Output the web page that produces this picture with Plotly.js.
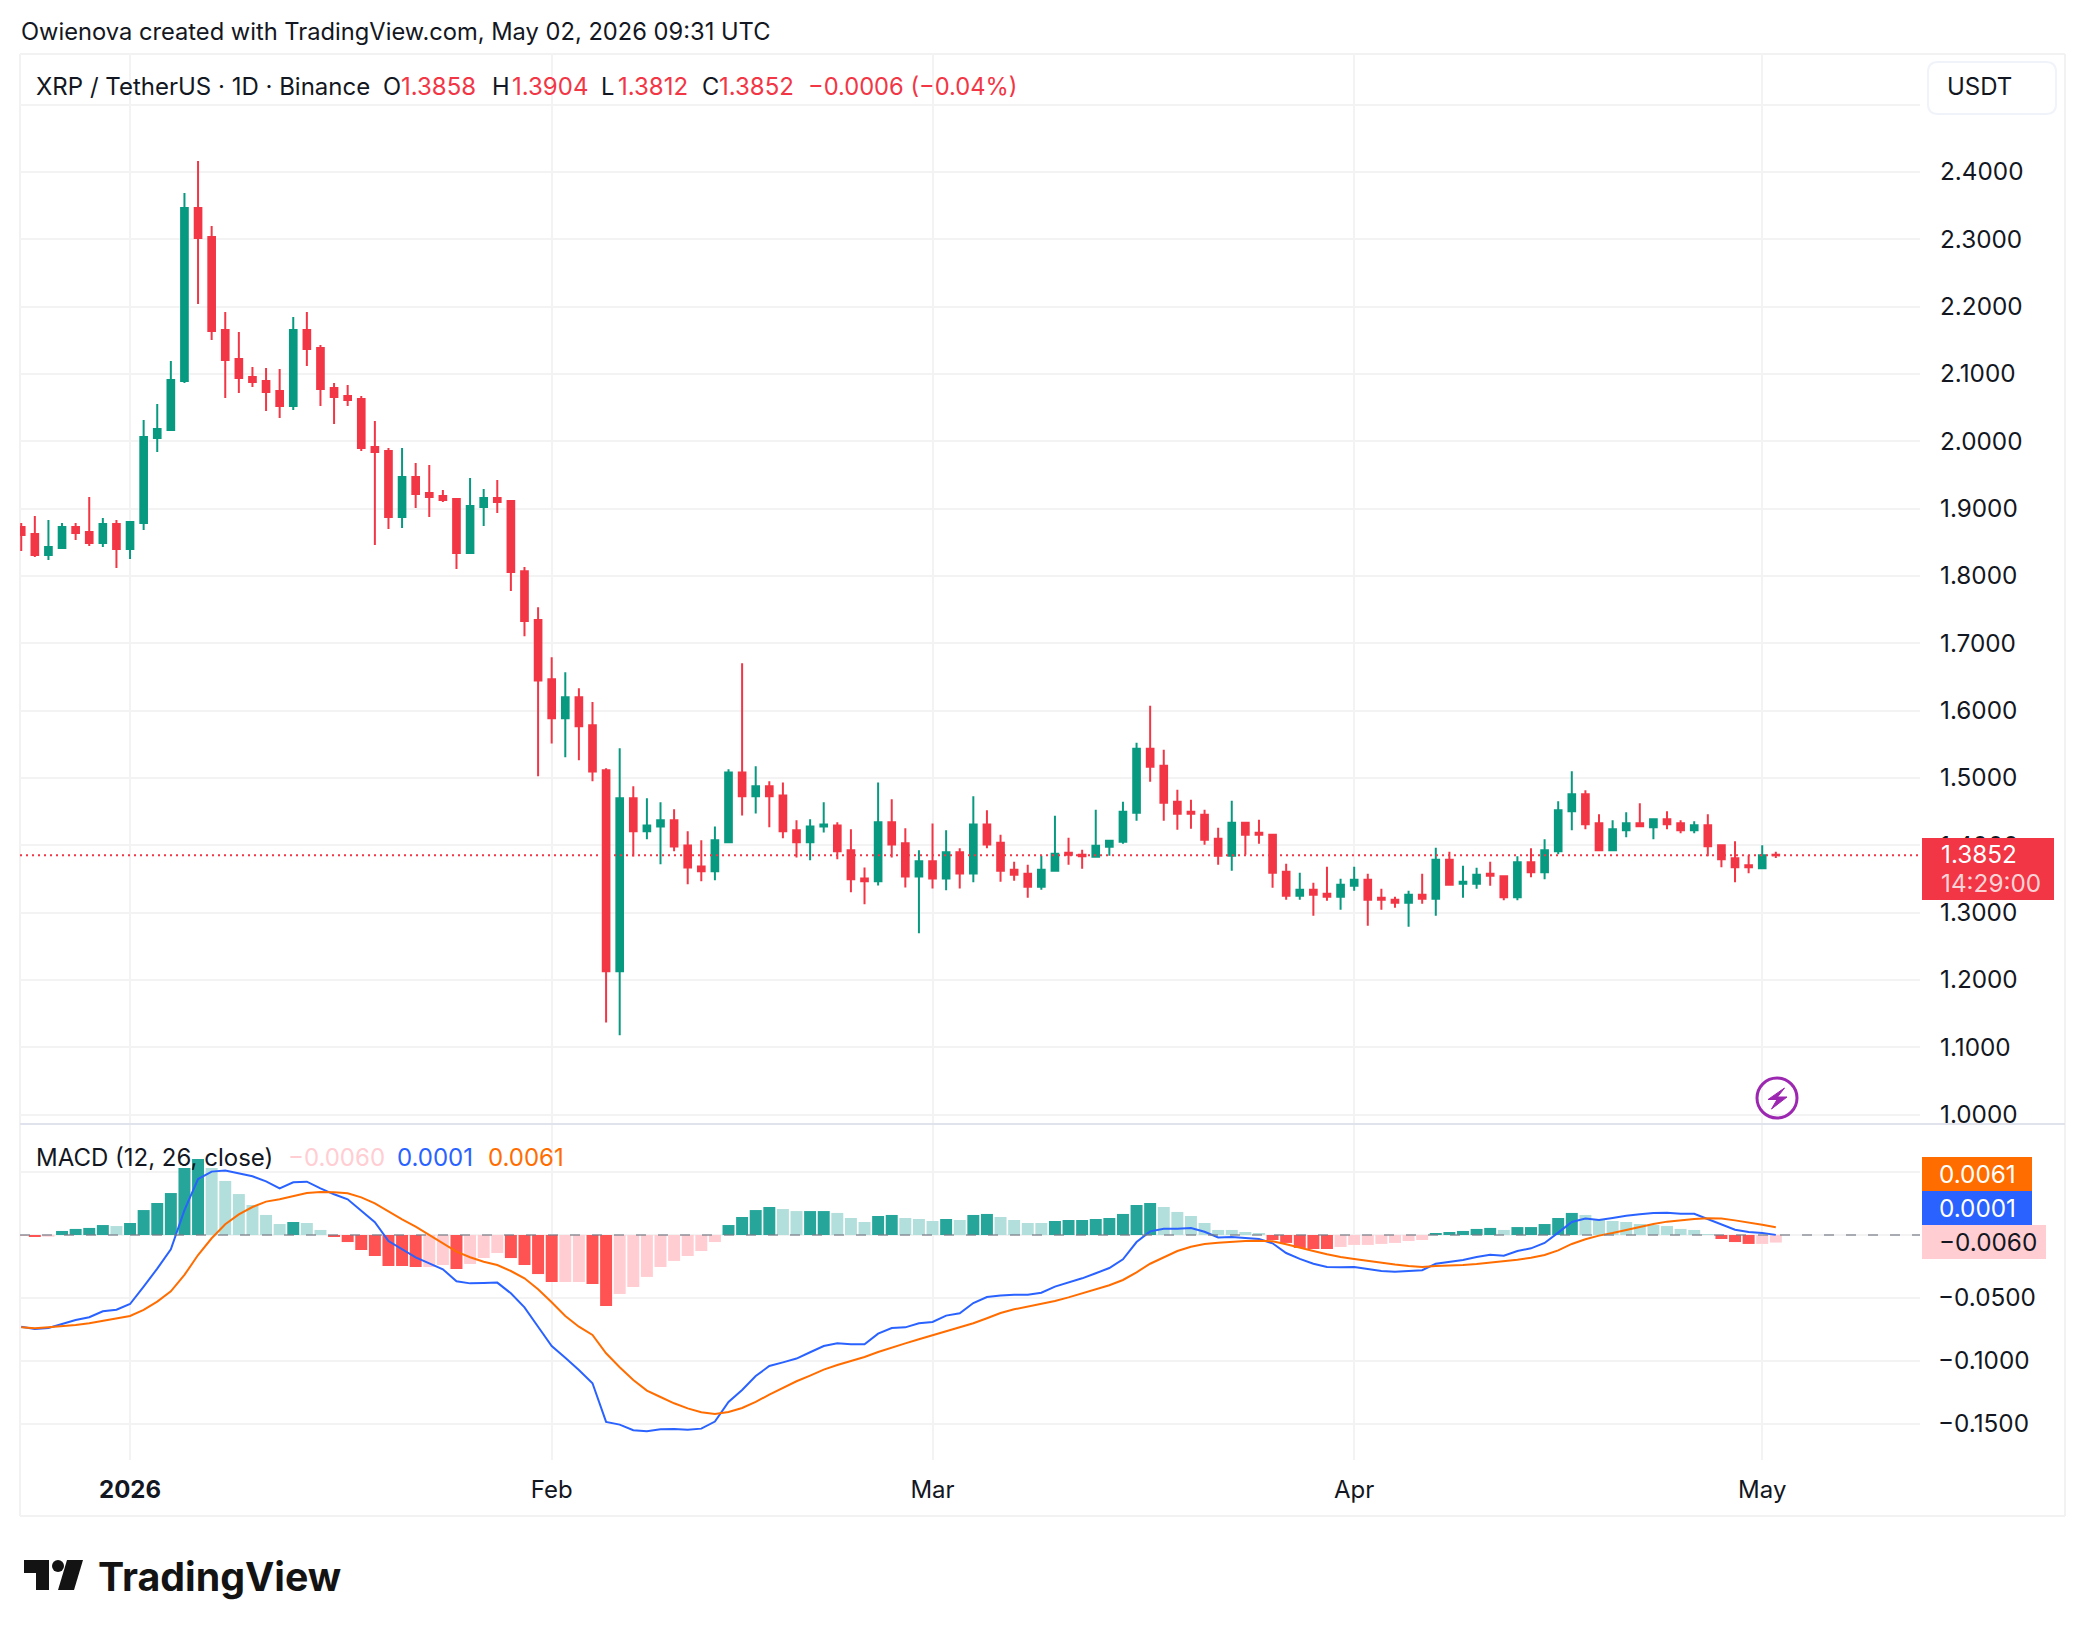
<!DOCTYPE html>
<html><head><meta charset="utf-8">
<script src="https://cdn.plot.ly/plotly-3.0.1.min.js"></script>
<style>html,body{margin:0;padding:0;background:#fff}#c{width:2084px;height:1636px}</style>
</head><body><div id="c"></div>
<script>
const firstDay = "2025-12-24";
const opens = [1.8728,1.8624,1.8312,1.8416,1.8728,1.8654,1.8490,1.8772,1.8401,1.8787,2.0050,2.0168,2.0896,2.3465,2.3035,2.1654,2.1223,2.0956,2.0896,2.0748,2.0525,2.1654,2.1386,2.0792,2.0673,2.0629,1.9916,1.9856,1.8876,1.9470,1.9233,1.9188,1.9144,1.8342,1.9025,1.9158,1.9114,1.8072,1.7345,1.6465,1.5886,1.6199,1.5784,1.5114,1.2130,1.4699,1.4208,1.4279,1.4372,1.3998,1.3686,1.3614,1.4044,1.5083,1.4730,1.4878,1.4740,1.4223,1.4044,1.4279,1.4295,1.3926,1.3507,1.3466,1.4341,1.4029,1.3537,1.3763,1.3507,1.3896,1.3583,1.4310,1.4039,1.3638,1.3579,1.3386,1.3623,1.3891,1.3861,1.3831,1.3980,1.4054,1.4485,1.5435,1.5183,1.4648,1.4500,1.4455,1.4099,1.3846,1.4336,1.4188,1.4158,1.3609,1.3252,1.3341,1.3282,1.3237,1.3401,1.3490,1.3222,1.3193,1.3148,1.3267,1.3208,1.3787,1.3430,1.3430,1.3579,1.3540,1.3228,1.3748,1.3599,1.3911,1.4505,1.4757,1.4327,1.3926,1.4223,1.4327,1.4267,1.4386,1.4327,1.4223,1.4297,1.4000,1.3807,1.3703,1.3658,1.3858];
const highs = [1.8787,1.8891,1.8832,1.8787,1.8787,1.9173,1.8861,1.8832,1.8802,2.0317,2.0554,2.1193,2.3688,2.4163,2.3198,2.1921,2.1624,2.1104,2.1089,2.1074,2.1847,2.1921,2.1431,2.0866,2.0837,2.0673,2.0302,1.9901,1.9901,1.9678,1.9649,1.9277,1.9158,1.9456,1.9292,1.9426,1.9129,1.8133,1.7534,1.6792,1.6572,1.6332,1.6127,1.5144,1.5441,1.4878,1.4699,1.4638,1.4535,1.4208,1.4075,1.4279,1.5129,1.6705,1.5175,1.4950,1.4934,1.4372,1.4387,1.4638,1.4341,1.4238,1.3670,1.4934,1.4684,1.4254,1.3926,1.4325,1.4223,1.3957,1.4730,1.4520,1.4158,1.3757,1.3713,1.3846,1.4440,1.4113,1.3935,1.4529,1.4084,1.4648,1.5524,1.6074,1.5420,1.4826,1.4678,1.4529,1.4262,1.4663,1.4351,1.4381,1.4173,1.3727,1.3594,1.3445,1.3683,1.3505,1.3683,1.3579,1.3356,1.3237,1.3326,1.3579,1.3965,1.3906,1.3698,1.3668,1.3757,1.3554,1.3837,1.3955,1.4089,1.4654,1.5099,1.4817,1.4460,1.4371,1.4490,1.4624,1.4401,1.4505,1.4371,1.4357,1.4460,1.4000,1.4059,1.3852,1.4000,1.3904];
const lows = [1.8372,1.8282,1.8238,1.8416,1.8535,1.8446,1.8431,1.8119,1.8253,1.8683,1.9842,2.0153,2.0866,2.2040,2.1505,2.0644,2.0718,2.0807,2.0451,2.0347,2.0465,2.1119,2.0525,2.0257,2.0525,1.9856,1.8460,1.8698,1.8713,1.9010,1.8876,1.9099,1.8104,1.8327,1.8743,1.8936,1.7777,1.7104,1.5027,1.5513,1.5308,1.5262,1.4950,1.1368,1.1178,1.3834,1.4090,1.3717,1.3911,1.3420,1.3466,1.3481,1.4044,1.4443,1.4474,1.4269,1.4105,1.3819,1.3778,1.4192,1.3793,1.3302,1.3123,1.3404,1.3819,1.3374,1.2693,1.3358,1.3333,1.3358,1.3450,1.3957,1.3460,1.3475,1.3222,1.3341,1.3609,1.3713,1.3653,1.3831,1.3846,1.4024,1.4366,1.4945,1.4366,1.4232,1.4247,1.4010,1.3713,1.3623,1.3861,1.4024,1.3371,1.3193,1.3193,1.2955,1.3178,1.3044,1.3326,1.2807,1.3044,1.3074,1.2792,1.3133,1.2955,1.3401,1.3222,1.3356,1.3401,1.3183,1.3183,1.3525,1.3495,1.3866,1.4223,1.4238,1.3911,1.3926,1.4119,1.4267,1.4089,1.4238,1.4178,1.4178,1.3837,1.3673,1.3450,1.3584,1.3644,1.3812];
const closes = [1.8609,1.8312,1.8431,1.8728,1.8639,1.8490,1.8772,1.8401,1.8802,2.0064,2.0183,2.0911,2.3465,2.3020,2.1639,2.1208,2.0941,2.0881,2.0733,2.0525,2.1654,2.1371,2.0777,2.0658,2.0614,1.9901,1.9842,1.8876,1.9470,1.9218,1.9173,1.9129,1.8342,1.9040,1.9158,1.9099,1.8059,1.7330,1.6449,1.5886,1.6199,1.5769,1.5098,1.2130,1.4699,1.4208,1.4295,1.4372,1.3983,1.3670,1.3614,1.4075,1.5083,1.4730,1.4878,1.4730,1.4208,1.4044,1.4279,1.4310,1.3911,1.3497,1.3466,1.4341,1.4013,1.3537,1.3763,1.3507,1.3896,1.3583,1.4310,1.4013,1.3623,1.3564,1.3386,1.3638,1.3876,1.3861,1.3836,1.3995,1.4069,1.4500,1.5435,1.5168,1.4633,1.4470,1.4470,1.4084,1.3846,1.4336,1.4158,1.4158,1.3594,1.3252,1.3341,1.3267,1.3237,1.3415,1.3490,1.3193,1.3193,1.3148,1.3267,1.3208,1.3787,1.3415,1.3460,1.3564,1.3549,1.3228,1.3748,1.3599,1.3926,1.4520,1.4757,1.4312,1.3926,1.4238,1.4327,1.4282,1.4386,1.4312,1.4223,1.4297,1.3985,1.3792,1.3673,1.3673,1.3852,1.3852];
const histValues = [-0.0008,-0.0016,-0.0013,0.0032,0.0048,0.0056,0.0079,0.0071,0.0095,0.0198,0.0254,0.0333,0.0532,0.0603,0.0532,0.0429,0.0325,0.0238,0.0159,0.0087,0.0103,0.0095,0.0040,-0.0016,-0.0056,-0.0119,-0.0167,-0.0246,-0.0246,-0.0254,-0.0254,-0.0238,-0.0270,-0.0230,-0.0183,-0.0143,-0.0183,-0.0238,-0.0310,-0.0373,-0.0373,-0.0373,-0.0389,-0.0563,-0.0468,-0.0413,-0.0333,-0.0254,-0.0206,-0.0167,-0.0127,-0.0056,0.0079,0.0143,0.0198,0.0222,0.0206,0.0190,0.0190,0.0190,0.0175,0.0135,0.0103,0.0151,0.0159,0.0135,0.0127,0.0111,0.0127,0.0119,0.0159,0.0167,0.0143,0.0119,0.0095,0.0095,0.0111,0.0119,0.0119,0.0127,0.0135,0.0167,0.0238,0.0254,0.0222,0.0183,0.0151,0.0095,0.0040,0.0040,0.0024,0.0016,-0.0040,-0.0063,-0.0103,-0.0111,-0.0111,-0.0095,-0.0079,-0.0079,-0.0071,-0.0063,-0.0048,-0.0040,0.0016,0.0024,0.0032,0.0048,0.0056,0.0040,0.0063,0.0063,0.0087,0.0135,0.0175,0.0159,0.0119,0.0111,0.0103,0.0087,0.0079,0.0071,0.0048,0.0040,0.0008,-0.0032,-0.0056,-0.0071,-0.0071,-0.0060];
const histState = ["r","R","r","G","G","G","G","g","G","G","G","G","G","G","g","g","g","g","g","g","G","g","g","R","R","R","R","R","R","R","r","r","R","r","r","r","R","R","R","R","r","r","R","R","r","r","r","r","r","r","r","r","G","G","G","G","g","g","G","G","g","g","g","G","G","g","g","g","G","g","G","G","g","g","g","g","G","G","G","G","G","G","G","G","g","g","g","g","g","g","g","g","R","R","R","R","R","r","r","r","r","r","r","r","G","G","G","G","G","g","G","G","G","G","G","g","g","g","g","g","g","g","g","g","g","R","R","R","r","r"];
const macdLine = [-0.0728,-0.0746,-0.0738,-0.0706,-0.0675,-0.0653,-0.0606,-0.0593,-0.0548,-0.0410,-0.0267,-0.0114,0.0198,0.0444,0.0503,0.0511,0.0489,0.0466,0.0426,0.0370,0.0418,0.0423,0.0370,0.0323,0.0283,0.0193,0.0101,-0.0048,-0.0111,-0.0177,-0.0225,-0.0272,-0.0368,-0.0384,-0.0381,-0.0378,-0.0463,-0.0574,-0.0728,-0.0881,-0.0974,-0.1071,-0.1177,-0.1484,-0.1505,-0.1550,-0.1558,-0.1542,-0.1540,-0.1545,-0.1537,-0.1481,-0.1325,-0.1230,-0.1119,-0.1040,-0.1011,-0.0981,-0.0931,-0.0881,-0.0860,-0.0868,-0.0868,-0.0783,-0.0738,-0.0733,-0.0701,-0.0690,-0.0640,-0.0622,-0.0540,-0.0492,-0.0481,-0.0474,-0.0474,-0.0458,-0.0410,-0.0378,-0.0344,-0.0304,-0.0262,-0.0193,-0.0056,0.0029,0.0050,0.0050,0.0056,0.0026,-0.0019,-0.0016,-0.0024,-0.0032,-0.0066,-0.0143,-0.0190,-0.0228,-0.0254,-0.0257,-0.0254,-0.0272,-0.0286,-0.0291,-0.0286,-0.0280,-0.0228,-0.0214,-0.0198,-0.0175,-0.0156,-0.0164,-0.0127,-0.0106,-0.0063,0.0019,0.0103,0.0130,0.0119,0.0135,0.0153,0.0164,0.0175,0.0177,0.0169,0.0169,0.0127,0.0085,0.0042,0.0024,0.0016,0.0001];
const signalLine = [-0.0733,-0.0741,-0.0733,-0.0725,-0.0714,-0.0701,-0.0680,-0.0661,-0.0643,-0.0595,-0.0529,-0.0447,-0.0317,-0.0159,-0.0026,0.0085,0.0164,0.0222,0.0265,0.0283,0.0310,0.0333,0.0341,0.0339,0.0331,0.0299,0.0251,0.0185,0.0124,0.0066,0.0000,-0.0066,-0.0132,-0.0177,-0.0212,-0.0238,-0.0286,-0.0344,-0.0431,-0.0534,-0.0643,-0.0728,-0.0794,-0.0939,-0.1050,-0.1151,-0.1235,-0.1286,-0.1336,-0.1376,-0.1407,-0.1421,-0.1405,-0.1373,-0.1325,-0.1267,-0.1214,-0.1161,-0.1116,-0.1069,-0.1032,-0.1000,-0.0968,-0.0929,-0.0892,-0.0860,-0.0828,-0.0796,-0.0767,-0.0738,-0.0701,-0.0661,-0.0619,-0.0590,-0.0569,-0.0548,-0.0524,-0.0495,-0.0463,-0.0434,-0.0399,-0.0357,-0.0296,-0.0228,-0.0175,-0.0127,-0.0093,-0.0071,-0.0061,-0.0053,-0.0048,-0.0045,-0.0050,-0.0074,-0.0098,-0.0127,-0.0153,-0.0175,-0.0190,-0.0206,-0.0222,-0.0235,-0.0246,-0.0254,-0.0246,-0.0243,-0.0238,-0.0230,-0.0220,-0.0209,-0.0196,-0.0180,-0.0159,-0.0122,-0.0071,-0.0034,-0.0005,0.0016,0.0040,0.0063,0.0087,0.0106,0.0119,0.0127,0.0132,0.0130,0.0116,0.0101,0.0082,0.0061];
const priceTicks = [2.5,2.4,2.3,2.2,2.1,2.0,1.9,1.8,1.7,1.6,1.5,1.4,1.3,1.2,1.1,1.0];
const priceLabels = ["","2.4000","2.3000","2.2000","2.1000","2.0000","1.9000","1.8000","1.7000","1.6000","1.5000","1.4000","1.3000","1.2000","1.1000","1.0000"];
const macdTicks = [0.05,0,-0.05,-0.1,-0.15];
const macdLabels = ["","","\u22120.0500","\u22120.1000","\u22120.1500"];
const timeTicks = ["2026-01-01","2026-02-01","2026-03-01","2026-04-01","2026-05-01"];
const timeLabels = ["<b>2026</b>","Feb","Mar","Apr","May"];
const lastClose = 1.3852;

const DAY = 86400000;
const dates = opens.map((_, i) => new Date(Date.parse(firstDay + "T00:00:00Z") + i * DAY).toISOString().slice(0, 10));
const W = 2084, H = 1636;
const px = x => x / W, py = y => 1 - y / H;
const FONT = "Inter, 'Liberation Sans', sans-serif";
const INK = "#131722", RED = "#F23645", GREEN = "#089981", BLUE = "#2962FF", ORANGE = "#FF6D00", PINK = "#FFCDD2";
const GRID = "#f3f3f4";
const HEAD = 23.7, WIDE = 24, AXIS = 24.3;
const histColours = {G: "#26A69A", g: "#B2DFDB", R: "#FF5252", r: "#FFCDD2"};

const traces = [
  {type: "candlestick", x: dates, open: opens, high: highs, low: lows, close: closes, xaxis: "x", yaxis: "y",
   increasing: {line: {color: GREEN, width: 2}, fillcolor: GREEN},
   decreasing: {line: {color: RED, width: 2}, fillcolor: RED},
   whiskerwidth: 0, width: 0.64 * DAY, hoverinfo: "skip", showlegend: false},
  {type: "bar", x: dates, y: histValues, xaxis: "x", yaxis: "y2", width: 0.88 * DAY,
   marker: {color: histState.map(s => histColours[s]), line: {width: 0}}, hoverinfo: "skip", showlegend: false},
  {type: "scatter", mode: "lines", x: dates, y: macdLine, xaxis: "x", yaxis: "y2", line: {color: BLUE, width: 2}, hoverinfo: "skip", showlegend: false},
  {type: "scatter", mode: "lines", x: dates, y: signalLine, xaxis: "x", yaxis: "y2", line: {color: ORANGE, width: 2}, hoverinfo: "skip", showlegend: false}
];

function label(text, x, y, size, color, anchor) {
  return {text, x: px(x), y: py(y), xref: "paper", yref: "paper", xanchor: anchor || "left", yanchor: "middle",
    showarrow: false, borderpad: 0, font: {family: FONT, size, color}};
}
function rect(x0, y0, x1, y1, fill, line) {
  return {type: "rect", xref: "paper", yref: "paper", x0: px(x0), x1: px(x1), y0: py(y0), y1: py(y1),
    fillcolor: fill, line: line || {width: 0}, layer: "above"};
}
function pathIn(points) {
  return "M" + points.map(p => px(p[0]) + "," + py(p[1])).join("L") + "Z";
}
const logoInk = "#131313";
const shapes = [
  {type: "line", xref: "paper", yref: "paper", x0: px(20), x1: px(2065), y0: py(54), y1: py(54), line: {color: "#f2f2f3", width: 2}, layer: "below"},
  {type: "line", xref: "paper", yref: "paper", x0: px(20), x1: px(20), y0: py(54), y1: py(1516), line: {color: "#f2f2f3", width: 2}, layer: "below"},
  {type: "line", xref: "paper", yref: "paper", x0: px(2065), x1: px(2065), y0: py(54), y1: py(1516), line: {color: "#f2f2f3", width: 2}, layer: "below"},
  {type: "line", xref: "paper", yref: "paper", x0: px(20), x1: px(2065), y0: py(1516), y1: py(1516), line: {color: "#f2f2f3", width: 2}, layer: "below"},
  {type: "line", xref: "paper", yref: "paper", x0: px(20), x1: px(2065), y0: py(1124), y1: py(1124), line: {color: "#e0e3eb", width: 2}, layer: "above"},
  {type: "line", xref: "x domain", yref: "y", x0: 0, x1: 1, y0: lastClose, y1: lastClose, line: {color: RED, width: 2, dash: "2px,4px"}, layer: "above"},
  {type: "line", xref: "x domain", yref: "y2", x0: 0, x1: 1, y0: 0, y1: 0, line: {color: "rgba(120,123,134,0.6)", width: 2, dash: "10px,12px"}, layer: "above"},
  {type: "path", xref: "paper", yref: "paper", layer: "above", fillcolor: "#ffffff", line: {color: "#f0f3fa", width: 2},
   path: (function () { const x0 = 1928, x1 = 2056, y0 = 62, y1 = 114, r = 10;
     return `M${px(x0 + r)},${py(y0)}L${px(x1 - r)},${py(y0)}Q${px(x1)},${py(y0)} ${px(x1)},${py(y0 + r)}L${px(x1)},${py(y1 - r)}Q${px(x1)},${py(y1)} ${px(x1 - r)},${py(y1)}L${px(x0 + r)},${py(y1)}Q${px(x0)},${py(y1)} ${px(x0)},${py(y1 - r)}L${px(x0)},${py(y0 + r)}Q${px(x0)},${py(y0)} ${px(x0 + r)},${py(y0)}Z`; })()},
  rect(1922, 838, 2054, 900, RED),
  rect(1922, 1157, 2032, 1191, ORANGE),
  rect(1922, 1191, 2032, 1225, BLUE),
  rect(1922, 1225, 2046, 1259, PINK),
  {type: "circle", xref: "paper", yref: "paper", x0: px(1757), x1: px(1797), y0: py(1078), y1: py(1118), fillcolor: "rgba(255,255,255,0)", line: {color: "#9C27B0", width: 3}, layer: "above"},
  {type: "path", xref: "paper", yref: "paper", layer: "above", fillcolor: "#9C27B0", line: {color: "#9C27B0", width: 1},
   path: pathIn([[1784.5,1088],[1768,1099.5],[1777,1099.5],[1771.5,1109],[1787,1097],[1777.5,1097]])},
  {type: "path", xref: "paper", yref: "paper", layer: "above", fillcolor: logoInk, line: {width: 0},
   path: pathIn([[24,1560],[49,1560],[49,1590],[36,1590],[36,1573],[24,1573]])},
  {type: "circle", xref: "paper", yref: "paper", x0: px(52), x1: px(64), y0: py(1560), y1: py(1572), fillcolor: logoInk, line: {width: 0}, layer: "above"},
  {type: "path", xref: "paper", yref: "paper", layer: "above", fillcolor: logoInk, line: {width: 0},
   path: pathIn([[67,1560],[83,1560],[74,1590],[58,1590]])}
];
const annotations = [
  label("Owienova created with TradingView.com, May 02, 2026 09:31 UTC", 20, 32, HEAD, INK),
  label("XRP / TetherUS \u00b7 1D \u00b7 Binance", 35, 86.5, WIDE, INK),
  label("O", 382, 86.5, HEAD, INK), label("1.3858", 400, 86.5, WIDE, RED),
  label("H", 491, 86.5, HEAD, INK), label("1.3904", 511, 86.5, WIDE, RED),
  label("L", 600, 86.5, HEAD, INK), label("1.3812", 617, 86.5, WIDE, RED),
  label("C", 701, 86.5, HEAD, INK), label("1.3852", 718, 86.5, WIDE, RED),
  label("\u22120.0006 (\u22120.04%)", 807, 86.5, HEAD, RED),
  label("USDT", 1946, 87, WIDE, INK),
  label("MACD (12, 26, close)", 35, 1157, WIDE, INK),
  label("\u22120.0060", 287, 1157, WIDE, PINK),
  label("0.0001", 396, 1157, WIDE, BLUE),
  label("0.0061", 487, 1157, WIDE, ORANGE),
  label("1.3852", 1940, 854, AXIS, "#ffffff"),
  label("14:29:00", 1940, 883, AXIS, "#fbd3d7"),
  label("0.0061", 1938, 1174, AXIS, "#ffffff"),
  label("0.0001", 1938, 1208, AXIS, "#ffffff"),
  label("\u22120.0060", 1938, 1242, AXIS, INK),
  {text: "<b>TradingView</b>", x: px(97), y: py(1576), xref: "paper", yref: "paper", xanchor: "left", yanchor: "middle", showarrow: false, borderpad: 0, font: {family: FONT, size: 39.3, color: logoInk}}
];

const layout = {
  width: W, height: H, margin: {l: 0, r: 0, t: 0, b: 0}, paper_bgcolor: "#ffffff", plot_bgcolor: "#ffffff",
  showlegend: false, dragmode: false, hovermode: false, barmode: "overlay",
  font: {family: FONT, color: INK, size: 24},
  xaxis: {type: "date", domain: [px(20), px(1920)], anchor: "y2", range: ["2025-12-23T21:50:00Z", "2026-05-12T14:24:00Z"],
    rangeslider: {visible: false}, tickmode: "array", tickvals: timeTicks, ticktext: timeLabels,
    showgrid: true, gridcolor: GRID, gridwidth: 2, zeroline: false, showline: false, ticks: "",
    tickfont: {family: FONT, size: 24, color: INK}, ticklabelstandoff: 13},
  yaxis: {domain: [py(1124), py(53)], anchor: "x", side: "right", range: [0.9861, 2.5767], tickmode: "array",
    tickvals: priceTicks, ticktext: priceLabels, showgrid: true, gridcolor: GRID, gridwidth: 2, zeroline: false, showline: false,
    ticks: "", tickfont: {family: FONT, size: AXIS, color: INK}, ticklabelstandoff: 19, ticklabelshift: -1.5},
  yaxis2: {domain: [py(1460), py(1124)], anchor: "x", side: "right", range: [-0.1786, 0.0881], tickmode: "array",
    tickvals: macdTicks, ticktext: macdLabels, showgrid: true, gridcolor: GRID, gridwidth: 2, zeroline: false, showline: false,
    ticks: "", tickfont: {family: FONT, size: AXIS, color: INK}, ticklabelstandoff: 17, ticklabelshift: -1.5},
  shapes, annotations
};
Plotly.newPlot("c", traces, layout, {staticPlot: true, displayModeBar: false, responsive: false});
</script></body></html>
